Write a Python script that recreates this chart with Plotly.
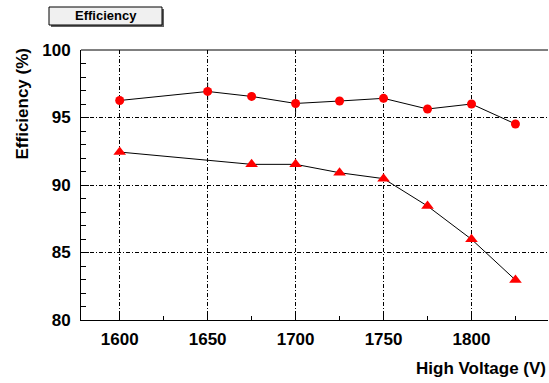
import plotly.graph_objects as go

voltage_circ = [1600, 1650, 1675, 1700, 1725, 1750, 1775, 1800, 1825]
eff_circ = [96.26, 96.93, 96.56, 96.04, 96.22, 96.42, 95.63, 96.0, 94.52]
err_circ = [0.3, 0.65, 0.3, 0.7, 0.3, 0.3, 0.3, 0.3, 0.3]

voltage_tri = [1600, 1675, 1700, 1725, 1750, 1775, 1800, 1825]
eff_tri = [92.44, 91.53, 91.53, 90.91, 90.47, 88.44, 85.98, 82.96]

x_ticks = [1600, 1650, 1700, 1750, 1800]
y_ticks = [80, 85, 90, 95, 100]

FONT = "Liberation Sans, Arial, sans-serif"

fig = go.Figure()
fig.add_trace(go.Scatter(
    x=voltage_circ, y=eff_circ, mode="lines+markers",
    line=dict(color="black", width=1),
    marker=dict(symbol="circle", size=9, color="red"),
    error_y=dict(type="data", array=err_circ, color="black", thickness=1, width=0),
    showlegend=False))
fig.add_trace(go.Scatter(
    x=voltage_tri, y=eff_tri, mode="lines+markers",
    line=dict(color="black", width=1),
    marker=dict(symbol="triangle-up", size=11, color="red"),
    showlegend=False))

grid = dict(showgrid=True, gridcolor="black", gridwidth=1, griddash="4px,2px,1px,2px")
fig.update_xaxes(range=[1578, 1843.5], tickvals=x_ticks, ticks="inside", ticklen=8,
                 tickcolor="black", showline=True, linecolor="black", linewidth=1,
                 mirror=False, zeroline=False,
                 tickfont=dict(family=FONT, size=17, color="black", weight="bold"),
                 minor=dict(dtick=25, ticks="inside", ticklen=4, tickcolor="black", showgrid=False),
                 ticklabelstandoff=4, **grid)
fig.update_yaxes(range=[80, 100], tickvals=y_ticks, ticks="inside", ticklen=8,
                 tickcolor="black", showline=True, linecolor="black", linewidth=1,
                 zeroline=False,
                 tickfont=dict(family=FONT, size=17, color="black", weight="bold"),
                 minor=dict(dtick=1, ticks="inside", ticklen=5, tickcolor="black", showgrid=False),
                 ticklabelstandoff=6, **grid)

fig.update_layout(
    width=549, height=383,
    margin=dict(l=81, r=1, t=50, b=63),
    paper_bgcolor="white", plot_bgcolor="white",
    font=dict(family=FONT, color="black"),
    shapes=[
        dict(type="line", xref="paper", yref="paper", x0=0, x1=1, y0=1, y1=1,
             line=dict(color="black", width=1)),
        dict(type="rect", xref="paper", yref="paper",
             x0=(51 - 81) / 467, x1=(164 - 81) / 467,
             y0=1 + (50 - 27) / 270, y1=1 + (50 - 9) / 270,
             fillcolor="#606060", line=dict(width=0), layer="above"),
        dict(type="rect", xref="paper", yref="paper",
             x0=(49 - 81) / 467, x1=(162 - 81) / 467,
             y0=1 + (50 - 25) / 270, y1=1 + (50 - 7) / 270,
             fillcolor="#f0f0f0", line=dict(color="black", width=1), layer="above"),
    ],
    annotations=[
        dict(text="<b>Efficiency</b>", xref="paper", yref="paper",
             x=(105.5 - 81) / 467, y=1 + (50 - 16) / 270, xanchor="center", yanchor="middle",
             showarrow=False, font=dict(family=FONT, size=13, color="black")),
        dict(text="<b>High Voltage (V)</b>", xref="paper", yref="paper",
             x=1, y=(320 - 368) / 270, xanchor="right", yanchor="middle",
             showarrow=False, font=dict(family=FONT, size=17, color="black")),
        dict(text="<b>Efficiency (%)</b>", xref="paper", yref="paper",
             x=(22 - 81) / 467, y=1 + (50 - 46) / 270, xanchor="center", yanchor="top",
             textangle=-90, showarrow=False, font=dict(family=FONT, size=17, color="black")),
    ],
)

fig.write_html("out.html", config={"displayModeBar": False},
               post_script="document.body.style.margin='0';document.body.style.padding='0';")
